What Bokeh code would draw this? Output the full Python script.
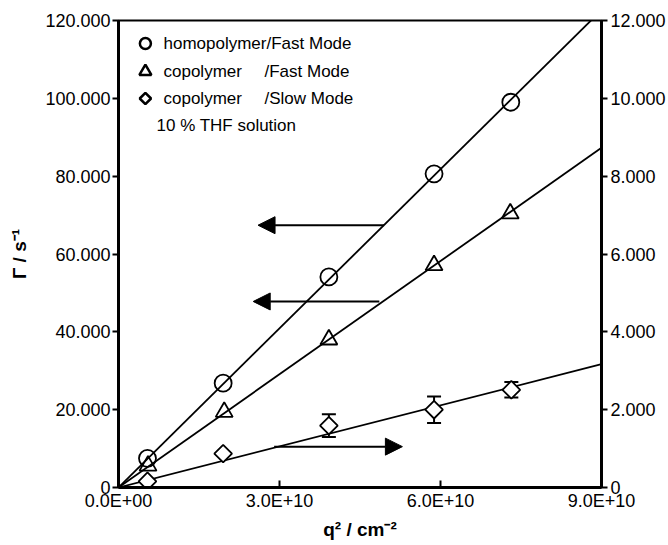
import math
from bokeh.plotting import figure
from bokeh.models import (Range1d, LinearAxis, FixedTicker, CustomJSTickFormatter,
                          ColumnDataSource, Whisker, TeeHead, Arrow, NormalHead, Label)
from bokeh.embed import file_html
from bokeh.resources import INLINE

# ---------------- data ----------------
q2_homo_fast = [0.54e10, 1.95e10, 3.92e10, 5.88e10, 7.31e10]
gamma_homo_fast = [7.5, 26.8, 54.1, 80.6, 99.0]          # left axis

q2_co_fast = [0.55e10, 1.97e10, 3.92e10, 5.88e10, 7.30e10]
gamma_co_fast = [5.6, 19.4, 38.0, 57.1, 70.4]            # left axis

q2_co_slow = [0.54e10, 1.95e10, 3.92e10, 5.88e10, 7.32e10]
gamma_co_slow = [0.16, 0.87, 1.59, 2.00, 2.51]           # right axis
err_co_slow = [0.0, 0.0, 0.29, 0.34, 0.20]

slope_homo_fast = 1.363e-9
slope_co_fast = 0.970e-9
slope_co_slow = 3.52e-11

x_ticks = [0, 3e10, 6e10, 9e10]
x_tick_labels = ["0.0E+00", "3.0E+10", "6.0E+10", "9.0E+10"]
yl_ticks = [0, 20, 40, 60, 80, 100, 120]
yl_tick_labels = ["0", "20.000", "40.000", "60.000", "80.000", "100.000", "120.000"]
yr_ticks = [0, 2, 4, 6, 8, 10, 12]
yr_tick_labels = ["0", "2.000", "4.000", "6.000", "8.000", "10.000", "12.000"]

x_title = "q\u00b2 / cm\u207b\u00b2"
y_title = "\u0393 / s\u207b\u00b9"

legend_names = ["homopolymer/Fast Mode", "copolymer", "copolymer", "10 % THF solution"]
legend_modes = ["", "/Fast Mode", "/Slow Mode", ""]

# arrows: (x_start, x_end, y)
arrows_left = [(4.95e10, 2.60e10, 67.4), (4.86e10, 2.51e10, 47.8)]
arrows_right = [(2.90e10, 5.29e10, 1.05)]

X_MAX = 9e10
YL_MAX = 120
YR_MAX = 12

# ---------------- layout constants ----------------
W, H = 668, 545
FL, FR, FT, FB = 118, 603, 20, 487
FW, FH = FR - FL, FB - FT
FONT = "Liberation Sans"


def px_to_data(px, py):
    return (X_MAX * (px - FL) / FW, YL_MAX * (FB - py) / FH)


p = figure(width=W, height=H, output_backend="svg", toolbar_location=None,
           x_range=Range1d(0, X_MAX), y_range=Range1d(0, YL_MAX),
           min_border_left=FL, min_border_right=W - FR,
           min_border_top=FT, min_border_bottom=H - FB)
p.extra_y_ranges = {"right": Range1d(0, YR_MAX)}
p.xgrid.visible = False
p.ygrid.visible = False
p.outline_line_color = "black"
p.outline_line_width = 2
p.background_fill_color = "white"
p.border_fill_color = "white"

fmt_code = """
const i = tv.findIndex(t => Math.abs(t - tick) <= 1e-9 * Math.max(1, Math.abs(t)));
return i >= 0 ? tl[i] : "";
"""


def style_axis(ax, ticks, labels, tick_in, tick_out, standoff):
    ax.ticker = FixedTicker(ticks=ticks)
    ax.formatter = CustomJSTickFormatter(args=dict(tv=ticks, tl=labels), code=fmt_code)
    ax.axis_line_width = 3
    ax.axis_line_color = "black"
    ax.major_tick_line_width = 2
    ax.major_tick_line_color = "black"
    ax.major_tick_in = tick_in
    ax.major_tick_out = tick_out
    ax.minor_tick_line_color = None
    ax.major_label_text_font = FONT
    ax.major_label_text_font_size = "18px"
    ax.major_label_text_color = "black"
    ax.major_label_standoff = standoff
    ax.axis_label_text_font = FONT
    ax.axis_label_text_font_size = "19px"
    ax.axis_label_text_font_style = "bold"
    ax.axis_label_text_color = "black"


xa = p.xaxis[0]
style_axis(xa, x_ticks, x_tick_labels, 7, 0, 3)
xa.axis_label = x_title
xa.axis_label_standoff = 5

ya = p.yaxis[0]
style_axis(ya, yl_ticks, yl_tick_labels, 0, 6, 2)
ya.axis_label = y_title
ya.axis_label_standoff = 12

right_axis = LinearAxis(y_range_name="right")
style_axis(right_axis, yr_ticks, yr_tick_labels, 0, 6, 3)
p.add_layout(right_axis, "right")

# fit lines
p.line([0, X_MAX], [0, slope_homo_fast * X_MAX], line_color="black", line_width=1.8)
p.line([0, X_MAX], [0, slope_co_fast * X_MAX], line_color="black", line_width=1.8)
p.line([0, X_MAX], [0, slope_co_slow * X_MAX], line_color="black", line_width=1.8,
       y_range_name="right")

# error bars
eb = [(x, y, e) for x, y, e in zip(q2_co_slow, gamma_co_slow, err_co_slow) if e > 0]
eb_src = ColumnDataSource(dict(x=[v[0] for v in eb],
                               upper=[v[1] + v[2] for v in eb],
                               lower=[v[1] - v[2] for v in eb]))
p.add_layout(Whisker(source=eb_src, base="x", upper="upper", lower="lower",
                     y_range_name="right", line_width=2, line_color="black",
                     upper_head=TeeHead(size=14, line_width=2, line_color="black"),
                     lower_head=TeeHead(size=14, line_width=2, line_color="black")))

# markers
p.scatter(q2_homo_fast, gamma_homo_fast, marker="circle", size=17, fill_color=None,
          line_color="black", line_width=1.8)
p.scatter(q2_co_fast, gamma_co_fast, marker="triangle", size=17, fill_color=None,
          line_color="black", line_width=1.8)
p.scatter(q2_co_slow, gamma_co_slow, marker="square", angle=math.pi / 4, size=12.5,
          fill_color="white", line_color="black", line_width=1.8, y_range_name="right")

# arrows
for xs, xe, y in arrows_left:
    p.add_layout(Arrow(x_start=xs, y_start=y, x_end=xe, y_end=y, line_width=2,
                       end=NormalHead(size=17, fill_color="black", line_color="black")))
for xs, xe, y in arrows_right:
    p.add_layout(Arrow(x_start=xs, y_start=y, x_end=xe, y_end=y, line_width=2,
                       y_range_name="right",
                       end=NormalHead(size=17, fill_color="black", line_color="black")))

# legend (manual)
row_py = [43, 71, 98, 125]
lx, _ = px_to_data(145, 0)
markers = [("circle", 11, 0), ("triangle", 12, 0), ("square", 8, math.pi / 4)]
for (mk, sz, ang), py in zip(markers, row_py):
    _, ly = px_to_data(145, py)
    p.scatter([lx], [ly], marker=mk, size=sz, angle=ang, fill_color=None,
              line_color="black", line_width=2.5)
for i, py in enumerate(row_py):
    tx = 163 if i < 3 else 156
    p.add_layout(Label(x=tx - FL, y=FB - py, x_units="screen", y_units="screen",
                       text=legend_names[i], text_font=FONT, text_font_size="17px",
                       text_baseline="middle", text_align="left", text_color="black"))
    if legend_modes[i]:
        p.add_layout(Label(x=264 - FL, y=FB - py, x_units="screen", y_units="screen",
                           text=legend_modes[i], text_font=FONT, text_font_size="17px",
                           text_baseline="middle", text_align="left", text_color="black"))

open("out.html", "w").write(file_html(p, INLINE))
